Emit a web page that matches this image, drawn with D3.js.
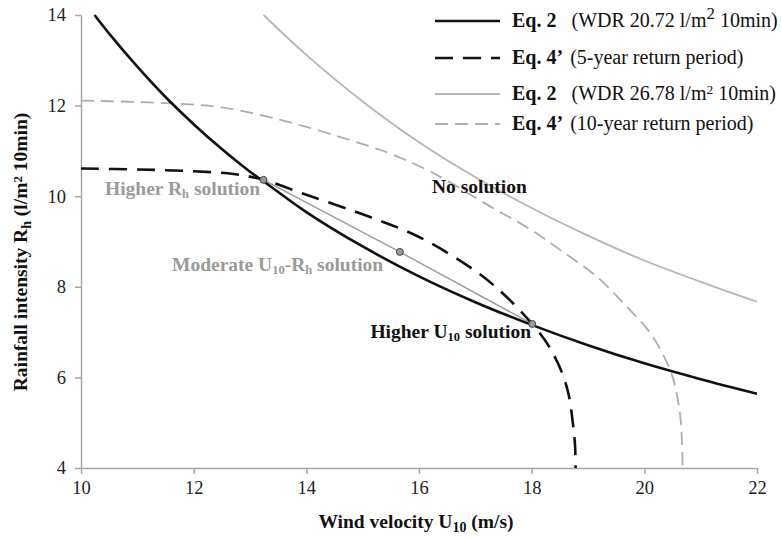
<!DOCTYPE html>
<html><head><meta charset="utf-8">
<script src="https://cdn.jsdelivr.net/npm/d3@7"></script>
<style>
body{margin:0;background:#fff;}
text{font-family:"Liberation Serif","Times New Roman",serif;}
</style></head>
<body><svg id="chart" width="782" height="541"></svg>
<script>
// Data
const xTicks = [10, 12, 14, 16, 18, 20, 22];
const yTicks = [4, 6, 8, 10, 12, 14];

// Eq. 2 (WDR 20.72) - black solid
const eq2LowU = [10.24, 10.5, 11, 11.5, 12, 12.5, 13, 13.24, 14, 15, 16, 17, 18, 19, 20, 21, 22];
const eq2LowR = [14.0, 13.59, 12.86, 12.19, 11.59, 11.04, 10.54, 10.33, 9.65, 8.89, 8.23, 7.66, 7.16, 6.71, 6.31, 5.96, 5.64];

// Eq. 4' (5-year) - black dashed
const eq4aU = [10, 11, 12, 12.71, 13.24, 14, 15, 16, 17, 17.5, 18.01, 18.3, 18.54, 18.66, 18.73, 18.77, 18.78];
const eq4aR = [10.61, 10.59, 10.55, 10.49, 10.36, 10.03, 9.6, 9.1, 8.35, 7.84, 7.18, 6.7, 6.1, 5.6, 5.0, 4.5, 4.0];

// Eq. 2 (WDR 26.78) - gray solid
const eq2HighU = [13.24, 14, 15, 16, 17, 18, 19, 20, 21, 22];
const eq2HighR = [14.0, 13.12, 12.09, 11.19, 10.42, 9.74, 9.13, 8.58, 8.11, 7.67];

// Eq. 4' (10-year) - gray dashed
const eq4bU = [10, 11, 12, 12.5, 13.19, 14, 15, 15.32, 16.21, 17.27, 18, 18.51, 19.16, 19.69, 20.11, 20.46, 20.58, 20.65, 20.68];
const eq4bR = [12.11, 12.08, 12.02, 11.96, 11.79, 11.53, 11.15, 11.02, 10.54, 9.77, 9.25, 8.81, 8.22, 7.56, 6.97, 6.16, 5.6, 5.0, 4.0];

// Solutions
const solU = [13.24, 15.66, 18.01];
const solR = [10.36, 8.77, 7.18];

const svg = d3.select("#chart");
const x = d3.scaleLinear().domain([10, 22]).range([81, 757]);
const y = d3.scaleLinear().domain([4, 14]).range([468, 15]);

const axisColor = "#a6a6a6";
const SERIF = "'Liberation Serif', 'Times New Roman', serif";

// Axes
const gx = svg.append("g").attr("transform", "translate(0,468)")
  .call(d3.axisBottom(x).tickValues(xTicks).tickSize(6).tickSizeOuter(0).tickPadding(7).tickFormat(d3.format("d")));
const gy = svg.append("g").attr("transform", "translate(81,0)")
  .call(d3.axisLeft(y).tickValues(yTicks).tickSize(6).tickSizeOuter(0).tickPadding(9).tickFormat(d3.format("d")));
[gx, gy].forEach(g => {
  g.attr("font-family", SERIF);
  g.select(".domain").attr("stroke", axisColor).attr("stroke-width", 1.5);
  g.selectAll(".tick line").attr("stroke", axisColor).attr("stroke-width", 1.5);
  g.selectAll(".tick text").attr("fill", "#222").style("font-size", "18.5px").style("font-family", SERIF);
});

const zip = (us, rs) => us.map((u, i) => [u, rs[i]]);
const line = d3.line().x(d => x(d[0])).y(d => y(d[1])).curve(d3.curveCatmullRom.alpha(0.5));

svg.append("path").datum(zip(eq4bU, eq4bR)).attr("d", line)
  .attr("fill", "none").attr("stroke", "#adadad").attr("stroke-width", 1.8).attr("stroke-dasharray", "13,7");
svg.append("path").datum(zip(eq2HighU, eq2HighR)).attr("d", line)
  .attr("fill", "none").attr("stroke", "#b5b5b5").attr("stroke-width", 1.8);
svg.append("path").datum(zip(solU, solR)).attr("d", d3.line().x(d => x(d[0])).y(d => y(d[1])))
  .attr("fill", "none").attr("stroke", "#9a9a9a").attr("stroke-width", 1.4);
svg.append("path").datum(zip(eq2LowU, eq2LowR)).attr("d", line)
  .attr("fill", "none").attr("stroke", "#111").attr("stroke-width", 2.6);
svg.append("path").datum(zip(eq4aU, eq4aR)).attr("d", line)
  .attr("fill", "none").attr("stroke", "#111").attr("stroke-width", 2.6).attr("stroke-dasharray", "18,10");

svg.selectAll("circle.sol").data(zip(solU, solR)).enter().append("circle")
  .attr("cx", d => x(d[0])).attr("cy", d => y(d[1])).attr("r", 3.5)
  .attr("fill", "#9a9a9a").attr("stroke", "#444").attr("stroke-width", 1);

// Annotations
function ann(t, px, py, color, anchor) {
  const tx = svg.append("text").attr("x", px).attr("y", py).attr("fill", color)
    .attr("text-anchor", anchor || "start").style("font-size", "19.5px").style("font-weight", "bold");
  t.forEach(p => {
    const s = tx.append("tspan").text(p[0]);
    if (p[1] === "sub") s.attr("baseline-shift", "-20%").style("font-size", "12.5px");
  });
  return tx;
}
ann([["Higher R"], ["h", "sub"], [" solution"]], 105, 195, "#9a9a9a");
ann([["Moderate U"], ["10", "sub"], ["-R"], ["h", "sub"], [" solution"]], 172, 271, "#9a9a9a");
ann([["No solution"]], 432, 193, "#111");
ann([["Higher U"], ["10", "sub"], [" solution"]], 531, 338, "#111", "end");

// Axis titles
const xt = svg.append("text").attr("x", 416).attr("y", 528).attr("text-anchor", "middle")
  .attr("fill", "#111").style("font-size", "19.5px").style("font-weight", "bold");
xt.append("tspan").text("Wind velocity U");
xt.append("tspan").text("10").attr("baseline-shift", "-25%").style("font-size", "14px");
xt.append("tspan").text(" (m/s)");

const yt = svg.append("text").attr("transform", "translate(27,252) rotate(-90)").attr("text-anchor", "middle")
  .attr("fill", "#111").style("font-size", "19.5px").style("font-weight", "bold");
yt.append("tspan").text("Rainfall intensity R");
yt.append("tspan").text("h").attr("baseline-shift", "-25%").style("font-size", "14px");
yt.append("tspan").text(" (l/m");
yt.append("tspan").text("2").attr("baseline-shift", "40%").style("font-size", "13px");
yt.append("tspan").text(" 10min)");

// Legend
const legendNames = ["Eq. 2", "Eq. 4\u2019", "Eq. 2", "Eq. 4\u2019"];
const legendDesc = [["(WDR 20.72 l/m", "2", " 10min)"], ["(5-year return period)"], ["(WDR 26.78 l/m", "2", " 10min)"], ["(10-year return period)"]];
const legendColor = ["#111", "#111", "#b5b5b5", "#adadad"];
const legendWidth = [2.6, 2.6, 1.8, 1.8];
const legendDash = [null, "18,10", null, "13,7"];
const legendRowY = [21, 58, 94, 124];
const legendGap = [15, 7, 15, 7];
legendNames.forEach((n, i) => {
  const ly = legendRowY[i];
  svg.append("line").attr("x1", 435).attr("x2", 500).attr("y1", ly).attr("y2", ly)
    .attr("stroke", legendColor[i]).attr("stroke-width", legendWidth[i])
    .attr("stroke-dasharray", legendDash[i]);
  const nt = svg.append("text").attr("x", 512).attr("y", ly + 6).attr("fill", "#111")
    .style("font-size", "20px").style("font-weight", "bold").text(n);
  const nx = 512 + nt.node().getComputedTextLength() + legendGap[i];
  const t = svg.append("text").attr("x", nx).attr("y", ly + 6).attr("fill", "#111").style("font-size", "20px");
  const d = legendDesc[i];
  t.append("tspan").text(d[0]);
  if (d.length > 1) {
    t.append("tspan").text(d[1]).attr("baseline-shift", "45%").style("font-size", i === 0 ? "17px" : "13.5px");
    t.append("tspan").text(d[2]);
  }
});
</script></body></html>
